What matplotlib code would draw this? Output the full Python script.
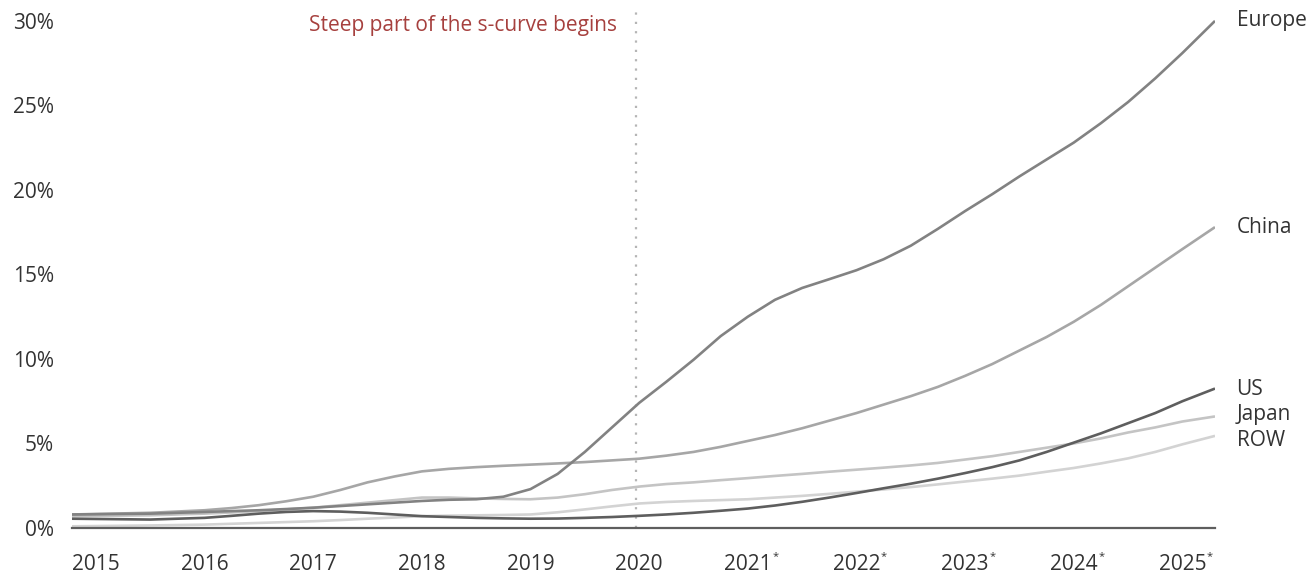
import matplotlib
matplotlib.use("Agg")
import matplotlib.pyplot as plt
from matplotlib.ticker import FuncFormatter

plt.rcParams['font.family'] = ['Open Sans', 'DejaVu Sans']

# ---- data (share of sales, %) ----
years = [2014.78, 2015.5, 2016, 2016.25, 2016.5, 2016.75, 2017, 2017.25, 2017.5, 2017.75,
         2018, 2018.25, 2018.5, 2018.75, 2019, 2019.25, 2019.5, 2019.75, 2020, 2020.25,
         2020.5, 2020.75, 2021, 2021.25, 2021.5, 2021.75, 2022, 2022.25, 2022.5, 2022.75,
         2023, 2023.25, 2023.5, 2023.75, 2024, 2024.25, 2024.5, 2024.75, 2025, 2025.3]

europe = [0.8, 0.85, 0.95, 1.0, 1.05, 1.12, 1.2, 1.3, 1.4, 1.5,
          1.6, 1.67, 1.7, 1.85, 2.3, 3.2, 4.5, 5.95, 7.4, 8.65,
          9.95, 11.35, 12.5, 13.5, 14.2, 14.72, 15.25, 15.9, 16.7, 17.7,
          18.75, 19.75, 20.8, 21.8, 22.8, 23.95, 25.2, 26.6, 28.1, 30.0]
china = [0.8, 0.9, 1.05, 1.18, 1.35, 1.58, 1.85, 2.25, 2.7, 3.05,
         3.35, 3.5, 3.6, 3.68, 3.75, 3.82, 3.9, 4.0, 4.1, 4.28,
         4.5, 4.8, 5.15, 5.5, 5.9, 6.35, 6.8, 7.3, 7.8, 8.35,
         9.0, 9.7, 10.5, 11.3, 12.2, 13.2, 14.3, 15.4, 16.5, 17.8]
us = [0.55, 0.5, 0.6, 0.72, 0.85, 0.95, 1.0, 0.97, 0.9, 0.8,
      0.7, 0.65, 0.6, 0.57, 0.55, 0.56, 0.6, 0.65, 0.72, 0.8,
      0.9, 1.02, 1.15, 1.33, 1.55, 1.8, 2.07, 2.35, 2.62, 2.92,
      3.25, 3.6, 4.0, 4.5, 5.05, 5.6, 6.2, 6.8, 7.5, 8.25]
japan = [0.7, 0.75, 0.85, 0.92, 1.0, 1.1, 1.2, 1.35, 1.5, 1.65,
         1.8, 1.8, 1.75, 1.72, 1.7, 1.8, 2.0, 2.25, 2.45, 2.6,
         2.7, 2.83, 2.95, 3.08, 3.2, 3.33, 3.45, 3.57, 3.7, 3.85,
         4.05, 4.25, 4.5, 4.75, 5.0, 5.3, 5.65, 5.95, 6.3, 6.6]
row = [0.1, 0.15, 0.2, 0.25, 0.3, 0.35, 0.4, 0.47, 0.55, 0.62,
       0.7, 0.73, 0.75, 0.77, 0.8, 0.93, 1.1, 1.28, 1.45, 1.54,
       1.6, 1.65, 1.7, 1.8, 1.9, 2.02, 2.15, 2.28, 2.42, 2.58,
       2.75, 2.92, 3.1, 3.33, 3.55, 3.82, 4.12, 4.5, 4.95, 5.45]

tick_years = [2015, 2016, 2017, 2018, 2019, 2020, 2021, 2022, 2023, 2024, 2025]
tick_labels = ["2015", "2016", "2017", "2018", "2019", "2020",
               "2021", "2022", "2023", "2024", "2025"]
forecast_years = [2021, 2022, 2023, 2024, 2025]
y_ticks = [0, 5, 10, 15, 20, 25, 30]

series = [
    ("ROW", row, "#d3d3d3"),
    ("Japan", japan, "#c4c4c4"),
    ("US", us, "#5e5e5e"),
    ("China", china, "#a6a6a6"),
    ("Europe", europe, "#828282"),
]
label_y = {"Europe": 30.0, "China": 17.8, "US": 8.2, "Japan": 6.7, "ROW": 5.15}

FS = 15
txt_col = "#333333"

fig = plt.figure(figsize=(13.11, 5.78), dpi=100)
ax = fig.add_axes([72/1311, 50/578, (1215-72)/1311, 524/578])

for name, vals, col in series:
    ax.plot(years, vals, color=col, lw=1.9, solid_capstyle='butt',
            solid_joinstyle='round', zorder=3)

for name, vals, col in series:
    ax.annotate(name, xy=(1.0, label_y[name]), xycoords=('axes fraction', 'data'),
                xytext=(15.5, 0), textcoords='offset points', fontsize=FS,
                color=txt_col, va='center', ha='left', annotation_clip=False)

ax.axvline(2019.97, color="#b5b5b5", lw=1.6, ls=(0, (1, 3.2)), ymax=(30.6/31), zorder=1)
ax.text(2019.8, 29.75, "Steep part of the s-curve begins", color="#a6403e",
        fontsize=FS, ha='right', va='center')

ax.set_xlim(2014.78, 2025.3)
ax.set_ylim(0, 31)
ax.set_xticks(tick_years)
ax.set_xticklabels(tick_labels)
ax.set_yticks(y_ticks)
ax.yaxis.set_major_formatter(FuncFormatter(lambda v, p: f"{int(v)}%"))
ax.tick_params(axis='both', length=0, labelsize=FS, labelcolor=txt_col)
ax.tick_params(axis='y', pad=13)
ax.tick_params(axis='x', pad=19)

# forecast asterisks
for yr in forecast_years:
    ax.annotate("*", xy=(yr, 0), xycoords='data', xytext=(17.6, -20.5),
                textcoords='offset points', fontsize=8, color=txt_col,
                ha='left', va='center', annotation_clip=False)

for s in ['top', 'right', 'left']:
    ax.spines[s].set_visible(False)
ax.spines['bottom'].set_color("#5e5e5e")
ax.spines['bottom'].set_linewidth(1.6)
ax.spines['bottom'].set_zorder(4)

fig.savefig("out.png", dpi=100)
